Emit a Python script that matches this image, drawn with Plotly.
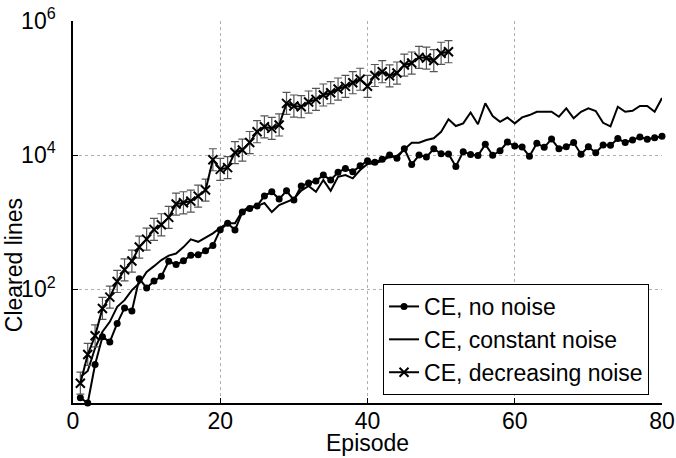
import plotly.graph_objects as go

episodes_80 = list(range(1, 81))
episodes_51 = list(range(1, 52))

no_noise = [2.4, 2.0, 7.5, 19.4, 16.3, 30.8, 52.4, 47.3, 143, 104,
            132, 155, 260, 232, 264, 321, 325, 373, 446, 771,
            957, 760, 1410, 1600, 1733, 2460, 2833, 2204, 2924, 2130,
            3446, 3820, 4093, 5027, 4236, 5520, 6327, 5633, 6900, 8222,
            7780, 8625, 10000, 8930, 12420, 7220, 10000, 9330, 12420, 10450,
            10350, 6770, 11200, 10230, 9830, 14440, 9930, 11590, 15630, 13620,
            13160, 9570, 14950, 13030, 17330, 12420, 13300, 15370, 10280, 13300,
            10820, 14100, 13950, 17620, 15370, 16740, 18560, 17210, 18120, 19010]

constant_noise = [4.9, 6.0, 13.2, 23.1, 32.5, 54.5, 68.5, 96.6, 122, 181,
                  220, 271, 316, 339, 424, 552, 508, 583, 678, 822,
                  957, 960, 1469, 1690, 1733, 1923, 1410, 1793, 2010, 2220,
                  2951, 3467, 2833, 4236, 2930, 4743, 5027, 4490, 5970, 7340,
                  7520, 8222, 9440, 9660, 12160, 15270, 15270, 16740, 17760, 22280,
                  34100, 27100, 29700, 43100, 28800, 59100, 38200, 31400, 36300, 29700,
                  36500, 39500, 44300, 44300, 44300, 37300, 49800, 35300, 44300, 49800,
                  45400, 30300, 26800, 52600, 44300, 45800, 53900, 53900, 44300, 70900]

decreasing_noise = [3.95, 10.6, 20.1, 51.5, 76, 130, 194, 262, 424, 557,
                    778, 912, 1175, 1857, 1942, 2057, 2442, 3003, 8510, 6120,
                    6500, 10900, 11880, 15380, 22300, 26400, 25000, 28100, 59100, 53900,
                    52600, 61800, 67800, 78700, 85100, 96600, 105900, 120000, 135200, 106000,
                    153800, 175000, 152000, 167500, 220000, 236000, 287000, 280000, 257000, 330000,
                    348000]

# error bars: symmetric on the log scale, relative factor
err_factor = 1.46
err_plus = [v * (err_factor - 1) for v in decreasing_noise]
err_minus = [v * (1 - 1 / err_factor) for v in decreasing_noise]

x_ticks = [0, 20, 40, 60, 80]
y_ticks = [1e2, 1e4, 1e6]
y_tick_text = ["10<sup>2</sup>", "10<sup>4</sup>", "10<sup>6</sup>"]

FONT = "Liberation Sans, Arial, Helvetica, sans-serif"
FS = 23

fig = go.Figure()

fig.add_trace(go.Scatter(
    x=episodes_80, y=no_noise, name="CE, no noise",
    mode="lines+markers",
    line=dict(color="black", width=2),
    marker=dict(symbol="circle", size=7, color="black"),
    cliponaxis=False,
))
fig.add_trace(go.Scatter(
    x=episodes_80, y=constant_noise, name="CE, constant noise",
    mode="lines",
    line=dict(color="black", width=2),
))
fig.add_trace(go.Scatter(
    x=episodes_51, y=decreasing_noise, name="CE, decreasing noise",
    mode="lines+markers",
    line=dict(color="black", width=2),
    marker=dict(symbol="x-thin", size=9, color="black",
                line=dict(color="black", width=2)),
    error_y=dict(type="data", symmetric=False, array=err_plus,
                 arrayminus=err_minus, color="#555555",
                 thickness=1.2, width=4),
))

fig.update_layout(
    width=676, height=458,
    margin=dict(l=73, r=14, t=21, b=55, autoexpand=False),
    paper_bgcolor="white", plot_bgcolor="white",
    font=dict(family=FONT, size=FS, color="black"),
    showlegend=True,
    legend=dict(
        x=0.978, y=0.021, xanchor="right", yanchor="bottom",
        bgcolor="white", bordercolor="black", borderwidth=1,
        font=dict(family=FONT, size=23, color="black"),
        tracegroupgap=0, itemwidth=30,
    ),
    xaxis=dict(
        range=[0, 80], tickvals=x_ticks,
        showgrid=True, gridcolor="#b0b0b0", griddash="dot", gridwidth=1,
        showline=True, linecolor="black", linewidth=1.5,
        ticks="inside", ticklen=5, tickcolor="black",
        zeroline=False, mirror=False, automargin=False,
        ticklabelstandoff=-3, ticklabeloverflow="allow",
        tickfont=dict(size=FS),
    ),
    yaxis=dict(
        type="log", range=[0.301, 6],
        tickvals=y_ticks, ticktext=y_tick_text,
        showgrid=True, gridcolor="#b0b0b0", griddash="dot", gridwidth=1,
        showline=True, linecolor="black", linewidth=1.5,
        ticks="inside", ticklen=5, tickcolor="black",
        zeroline=False, mirror=False, automargin=False,
        ticklabelstandoff=11, ticklabeloverflow="allow",
        tickfont=dict(size=FS),
    ),
    annotations=[
        dict(text="Cleared lines", xref="paper", yref="paper",
             x=-0.100, y=0.361, textangle=-90, showarrow=False,
             xanchor="center", yanchor="middle",
             font=dict(family=FONT, size=FS, color="black")),
        dict(text="Episode", xref="paper", yref="paper",
             x=0.50, y=-0.104, showarrow=False,
             xanchor="center", yanchor="middle",
             font=dict(family=FONT, size=FS, color="black")),
    ],
)

fig.write_html(
    "out.html",
    config={"displayModeBar": False},
    post_script="document.body.style.margin='0';document.body.style.overflow='hidden';",
)
